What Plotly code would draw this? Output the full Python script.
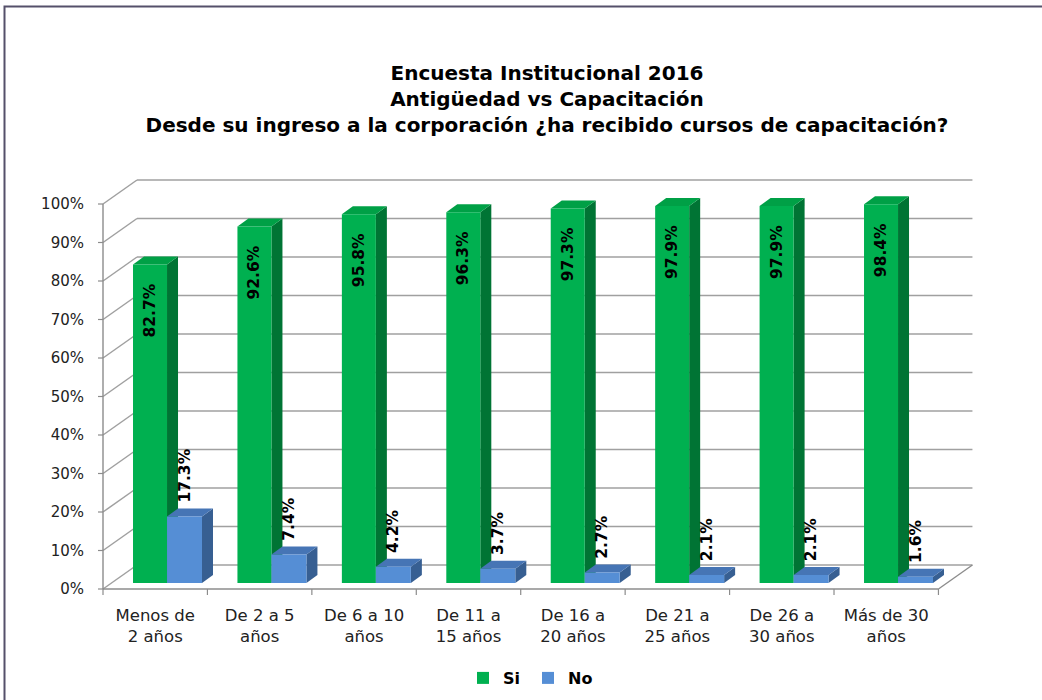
import plotly.graph_objects as go

# ---------------- data ----------------
categories = ["Menos de<br>2 años", "De 2 a 5<br>años", "De 6 a 10<br>años", "De 11 a<br>15 años",
              "De 16 a<br>20 años", "De 21 a<br>25 años", "De 26 a<br>30 años", "Más de 30<br>años"]
si_values = [82.7, 92.6, 95.8, 96.3, 97.3, 97.9, 97.9, 98.4]
no_values = [17.3, 7.4, 4.2, 3.7, 2.7, 2.1, 2.1, 1.6]
y_ticks = [0, 10, 20, 30, 40, 50, 60, 70, 80, 90, 100]
y_tick_labels = [f"{t}%" for t in y_ticks]
title_lines = ["Encuesta Institucional 2016", "Antigüedad vs Capacitación",
               "Desde su ingreso a la corporación ¿ha recibido cursos de capacitación?"]

# ---------------- geometry ----------------
W, H = 1042, 700
ML, MR, MT, MB = 95, 62, 175, 105
plot_w = W - ML - MR
plot_h = H - MT - MB
PX_X = 104.43                      # pixels per category
X_MIN = -0.5 - 8 / PX_X
X_MAX = X_MIN + plot_w / PX_X
PX_Y = 3.85                        # pixels per percent
Y_MIN = -12 / PX_Y
Y_MAX = Y_MIN + plot_h / PX_Y

FRONT_DY = -6 / PX_Y               # front plane (axis) offset
BACK_DY = 18 / PX_Y                # back wall offset
BACK_X0 = -0.5 + 34 / PX_X
BACK_X1 = 7.5 + 34 / PX_X
DEPTH_DX = 11 / PX_X
DEPTH_DY = 8 / PX_Y

SI_OFF, SI_W = -0.2126, 0.3256
NO_OFF, NO_W = 0.113, 0.335

SI_FRONT, SI_SIDE, SI_TOP = "#00B050", "#007434", "#00A046"
NO_FRONT, NO_SIDE, NO_TOP = "#558ED5", "#375F92", "#4675B5"
GRID = "#A0A0A0"
AXIS = "#8C8C8C"
FONT = "DejaVu Sans"

xs = list(range(len(categories)))

fig = go.Figure()
fig.add_trace(go.Bar(
    name="Si", x=xs, y=si_values, offset=SI_OFF, width=SI_W,
    marker=dict(color=SI_FRONT, line=dict(width=0)),
    text=[f"{v:.1f}%\u00a0\u00a0\u00a0" for v in si_values],
    textposition="inside", insidetextanchor="end", textangle=-90, constraintext="none",
    textfont=dict(family=FONT, size=15.5, color="black", weight="bold"),
    hoverinfo="skip",
))
fig.add_trace(go.Bar(
    name="No", x=xs, y=no_values, offset=NO_OFF, width=NO_W,
    marker=dict(color=NO_FRONT, line=dict(width=0)),
    text=[f"\u00a0\u00a0{v:.1f}%" for v in no_values],
    textposition="outside", textangle=-90, constraintext="none", cliponaxis=False,
    textfont=dict(family=FONT, size=15.5, color="black", weight="bold"),
    hoverinfo="skip",
))

shapes = []


def line(x0, y0, x1, y1, color=GRID, width=1.5):
    shapes.append(dict(type="line", xref="x", yref="y", x0=x0, y0=y0, x1=x1, y1=y1,
                       line=dict(color=color, width=width), layer="below"))


# back wall gridlines + side wall diagonals
for t in y_ticks:
    line(-0.5, t + FRONT_DY, BACK_X0, t + BACK_DY)
    line(BACK_X0, t + BACK_DY, BACK_X1, t + BACK_DY)
# floor
line(-0.5, FRONT_DY, 7.5, FRONT_DY, AXIS, 1.6)
line(7.5, FRONT_DY, BACK_X1, BACK_DY, AXIS, 1.4)
# front value axis + ticks
line(-0.5, FRONT_DY, -0.5, 100 + FRONT_DY, AXIS, 1.4)
for t in y_ticks:
    line(-0.5 - 5 / PX_X, t + FRONT_DY, -0.5, t + FRONT_DY, AXIS, 1.2)
for k in range(len(categories) + 1):
    line(k - 0.5, FRONT_DY, k - 0.5, FRONT_DY - 6 / PX_Y, AXIS, 1.2)


def path(pts):
    return "M " + " L ".join(f"{a},{b}" for a, b in pts) + " Z"


def box_faces(x0, x1, v, side_c, top_c):
    side = [(x1, 0), (x1 + DEPTH_DX, DEPTH_DY), (x1 + DEPTH_DX, v + DEPTH_DY), (x1, v)]
    top = [(x0, v), (x1, v), (x1 + DEPTH_DX, v + DEPTH_DY), (x0 + DEPTH_DX, v + DEPTH_DY)]
    shapes.append(dict(type="path", xref="x", yref="y", path=path(side),
                       fillcolor=side_c, line=dict(width=0), layer="below"))
    shapes.append(dict(type="path", xref="x", yref="y", path=path(top),
                       fillcolor=top_c, line=dict(width=0), layer="below"))


for i in xs:
    box_faces(i + SI_OFF, i + SI_OFF + SI_W, si_values[i], SI_SIDE, SI_TOP)
    box_faces(i + NO_OFF, i + NO_OFF + NO_W, no_values[i], NO_SIDE, NO_TOP)

# outer chart border
shapes.append(dict(type="rect", xref="paper", yref="paper",
                   x0=(4.5 - ML) / plot_w, x1=(1060 - ML) / plot_w,
                   y0=(MT + plot_h - 720) / plot_h, y1=(MT + plot_h - 6.5) / plot_h,
                   line=dict(color="#55506A", width=2), fillcolor="rgba(0,0,0,0)", layer="below"))

fig.update_layout(
    width=W, height=H,
    margin=dict(l=ML, r=MR, t=MT, b=MB, autoexpand=False),
    paper_bgcolor="white", plot_bgcolor="white",
    barmode="overlay",
    shapes=shapes,
    title=dict(text="<br>".join(title_lines), x=547 / W, xanchor="center",
               y=1 - 80 / H, yanchor="middle", yref="container",
               font=dict(family=FONT, size=20, color="black", weight="bold")),
    xaxis=dict(range=[X_MIN, X_MAX], tickmode="array", tickvals=xs, ticktext=categories,
               showgrid=False, zeroline=False, showline=False, ticks="",
               tickfont=dict(family=FONT, size=16.5, color="#222222"), ticklabelstandoff=8),
    yaxis=dict(range=[Y_MIN, Y_MAX], tickmode="array", tickvals=y_ticks, ticktext=y_tick_labels,
               showgrid=False, zeroline=False, showline=False, ticks="",
               ticklabelshift=6, ticklabelstandoff=10,
               tickfont=dict(family=FONT, size=15, color="#222222")),
    showlegend=True,
    legend=dict(orientation="h", xref="container", yref="container",
                x=528 / W, xanchor="center", y=(H - 678) / H, yanchor="middle",
                font=dict(family=FONT, size=16, color="black", weight="bold"),
                itemwidth=30, entrywidth=20, bgcolor="rgba(0,0,0,0)"),
)

fig.write_html("out.html", config={"displayModeBar": False},
               post_script="document.body.style.margin='0px';")
